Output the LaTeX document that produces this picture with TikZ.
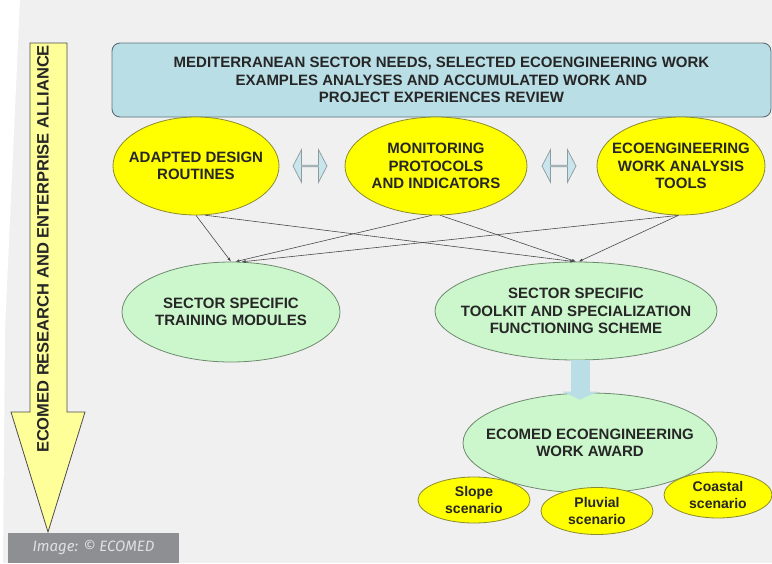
\documentclass[tikz,border=0pt]{standalone}
\usepackage{fontspec}
\setmainfont{Liberation Sans}
\newfontfamily\capfont{Fira Sans}
\usetikzlibrary{shapes.geometric,shapes.arrows,arrows.meta}

\definecolor{paper}{HTML}{F0F0F0}
\definecolor{boxblue}{HTML}{B9DEE5}
\definecolor{boxedge}{HTML}{5E6E78}
\definecolor{ovalyellow}{HTML}{FFFF00}
\definecolor{yellowedge}{HTML}{8A8A30}
\definecolor{ovalgreen}{HTML}{CCF7CC}
\definecolor{greenedge}{HTML}{6E8A6E}
\definecolor{shaftyellow}{HTML}{FFFF99}
\definecolor{linkgray}{HTML}{4A4A4A}
\definecolor{capgray}{HTML}{8E8F93}

\tikzset{
  caps/.style={font=\bfseries\fontsize{15}{17.5}\selectfont, align=center, text=black!85},
  yellowoval/.style={ellipse, draw=yellowedge, fill=ovalyellow, line width=0.8pt, inner xsep=-20pt, inner ysep=0pt, caps},
  greenoval/.style={ellipse, draw=greenedge, fill=ovalgreen, line width=0.8pt, inner xsep=-20pt, inner ysep=0pt, caps},
  twoway/.style={double arrow, draw=boxedge!70, fill=boxblue!80, line width=0.7pt, inner sep=0pt,
    minimum width=33pt, minimum height=34pt, double arrow head extend=6.5pt, double arrow tip angle=125},
  link/.style={draw=linkgray, line width=0.6pt, -{Latex[length=4pt,width=3pt]}},
}

\begin{document}
\begin{tikzpicture}[x=1pt,y=-1pt]
\useasboundingbox (0,0) rectangle (772,563);
\fill[paper] (0,0) rectangle (772,563);
\fill[white] (0,0) -- (20,0) -- (5,330) -- (3,563) -- (0,563) -- cycle;

% alliance arrow down the left side
\draw[fill=shaftyellow, draw=black!70, line width=0.8pt]
  (30,43) -- (67,43) -- (67,412) -- (85,412) -- (48,532) -- (11,412) -- (30,412) -- cycle;
\node[rotate=90, font=\bfseries\fontsize{16.5}{18}\selectfont, text=black!85] (alliance) at (43,249)
  {ECOMED RESEARCH AND ENTERPRISE ALLIANCE};

% top box
\node[draw=boxedge, fill=boxblue, rounded corners=8pt, line width=0.9pt, minimum width=659pt,
  minimum height=74pt, caps] (needs) at (441.5,80)
  {MEDITERRANEAN SECTOR NEEDS, SELECTED ECOENGINEERING WORK\\
   EXAMPLES ANALYSES AND ACCUMULATED WORK AND\\
   PROJECT EXPERIENCES REVIEW};

% yellow row
\node[yellowoval, minimum width=166pt, minimum height=98pt] (design) at (196,166)
  {ADAPTED DESIGN\\ROUTINES};
\node[yellowoval, minimum width=182pt, minimum height=98pt] (monitor) at (436,166)
  {MONITORING\\PROTOCOLS\\AND INDICATORS};
\node[yellowoval, minimum width=168pt, minimum height=98pt] (tools) at (681,166)
  {ECOENGINEERING\\WORK ANALYSIS\\TOOLS};
\node[twoway] (ab) at (310,166) {};
\node[twoway] (bc) at (559,166) {};

% green row
\node[greenoval, minimum width=218pt, minimum height=100pt] (training) at (231,312)
  {SECTOR SPECIFIC\\TRAINING MODULES};
\node[greenoval, minimum width=282pt, minimum height=98pt] (toolkit) at (576,311)
  {SECTOR SPECIFIC\\TOOLKIT AND SPECIALIZATION\\FUNCTIONING SCHEME};

\draw[link] (design.south) -- (training.north);
\draw[link] (design.-80) -- (toolkit.92);
\draw[link] (monitor.-95) -- (training.85);
\draw[link] (monitor.-85) -- (toolkit.north);
\draw[link] (tools.-93) -- (training.78);
\draw[link] (tools.-93) -- (toolkit.87);

% award and scenarios
\node[greenoval, minimum width=254pt, minimum height=100pt] (award) at (590,443)
  {ECOMED ECOENGINEERING\\WORK AWARD};
\draw[boxblue, line width=19pt, shorten >=-7pt, -{Triangle[length=8pt,width=35pt]}]
  ([xshift=4pt]toolkit.south) -- ([xshift=-10pt]award.north);
\node[yellowoval, minimum width=112pt, minimum height=46pt, font=\bfseries\fontsize{14}{17}\selectfont]
  (slope) at (474,500) {Slope\\scenario};
\node[yellowoval, minimum width=112pt, minimum height=47pt, font=\bfseries\fontsize{14}{17}\selectfont]
  (pluvial) at (597,511) {Pluvial\\scenario};
\node[yellowoval, minimum width=108pt, minimum height=46pt, font=\bfseries\fontsize{14}{17}\selectfont]
  (coastal) at (718,495) {Coastal\\scenario};

% credit tag
\fill[capgray] (8,533) rectangle (179,563);
\node[anchor=west, font=\capfont\itshape\fontsize{15}{17}\selectfont, text=white!88!black] (credit) at (29,548)
  {Image: © ECOMED};
\end{tikzpicture}
\end{document}
